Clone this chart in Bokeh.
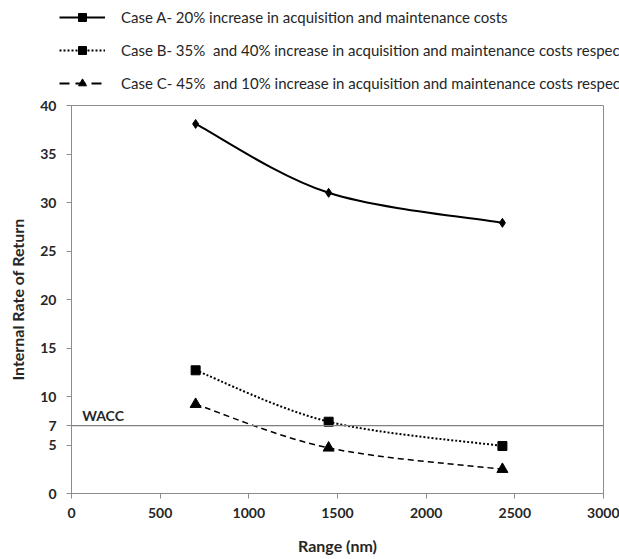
from bokeh.plotting import figure
from bokeh.layouts import column
from bokeh.models import (Legend, LegendItem, Span, Label, FixedTicker,
                          ColumnDataSource, Range1d)
from bokeh.embed import file_html
from bokeh.resources import INLINE

# ---- data ----
range_nm = [700, 1450, 2430]
case_a = [38.1, 31.0, 27.9]
case_b = [12.7, 7.4, 4.9]
case_c = [9.2, 4.7, 2.5]
wacc = 7
y_ticks = [0, 5, 7, 10, 15, 20, 25, 30, 35, 40]
x_ticks = [0, 500, 1000, 1500, 2000, 2500, 3000]
series_labels = [
    "Case A- 20% increase in acquisition and maintenance costs",
    "Case B- 35%  and 40% increase in acquisition and maintenance costs respectively",
    "Case C- 45%  and 10% increase in acquisition and maintenance costs respectively",
]
x_title = "Range (nm)"
y_title = "Internal Rate of Return"
wacc_label = "WACC"

FONT = "Lato"
TXT = "#262626"
AX = "#8c8c8c"


def smooth_segments(xs, ys):
    """Catmull-Rom style cubic Bezier segments through the data points."""
    n = len(xs)
    seg = dict(x0=[], y0=[], x1=[], y1=[], cx0=[], cy0=[], cx1=[], cy1=[])
    for i in range(n - 1):
        xp, yp = (xs[i - 1], ys[i - 1]) if i > 0 else (xs[i], ys[i])
        xn, yn = (xs[i + 2], ys[i + 2]) if i + 2 < n else (xs[i + 1], ys[i + 1])
        seg["x0"].append(xs[i]); seg["y0"].append(ys[i])
        seg["x1"].append(xs[i + 1]); seg["y1"].append(ys[i + 1])
        seg["cx0"].append(xs[i] + (xs[i + 1] - xp) / 6.0)
        seg["cy0"].append(ys[i] + (ys[i + 1] - yp) / 6.0)
        seg["cx1"].append(xs[i + 1] - (xn - xs[i]) / 6.0)
        seg["cy1"].append(ys[i + 1] - (yn - ys[i]) / 6.0)
    return ColumnDataSource(seg)


# ---------------- legend strip ----------------
lg = figure(width=619, height=95, x_range=Range1d(0, 3000), y_range=Range1d(0, 40),
            output_backend="svg", toolbar_location=None,
            x_axis_location=None, y_axis_location=None,
            min_border_left=0, min_border_right=0, min_border_top=0, min_border_bottom=0)
lg.frame_align = False
lg.outline_line_color = None
lg.xgrid.visible = False
lg.ygrid.visible = False

la = lg.line(range_nm, case_a, line_color="black", line_width=2, visible=False)
ma = lg.scatter(range_nm, case_a, marker="square", size=8, color="black", visible=False)
lb = lg.line(range_nm, case_b, line_color="black", line_width=2, line_dash="2 2", visible=False)
mb = lg.scatter(range_nm, case_b, marker="square", size=8, color="black", visible=False)
lc = lg.line(range_nm, case_c, line_color="black", line_width=2, line_dash="10 6", visible=False)
mc = lg.scatter(range_nm, case_c, marker="triangle", size=11, color="black", visible=False)

legend = Legend(items=[LegendItem(label=series_labels[0], renderers=[la, ma]),
                       LegendItem(label=series_labels[1], renderers=[lb, mb]),
                       LegendItem(label=series_labels[2], renderers=[lc, mc])],
                location=(59, 2), orientation="vertical", click_policy="none",
                padding=0, margin=0, spacing=13, label_height=20, glyph_height=20,
                glyph_width=46, label_standoff=16,
                label_text_font=FONT, label_text_font_size="15px", label_text_color=TXT,
                background_fill_alpha=0, border_line_alpha=0)
lg.add_layout(legend, "center")

# ---------------- main chart ----------------
p = figure(width=619, height=464, x_range=Range1d(0, 3000), y_range=Range1d(0, 40),
           output_backend="svg", toolbar_location=None,
           min_border_left=71, min_border_right=16, min_border_top=10, min_border_bottom=66)
p.frame_align = False

p.background_fill_color = "white"
p.border_fill_color = "white"
p.outline_line_color = AX
p.outline_line_width = 1
p.xgrid.visible = False
p.ygrid.visible = False

for ax in (p.xaxis[0], p.yaxis[0]):
    ax.axis_line_color = AX
    ax.major_tick_line_color = AX
    ax.minor_tick_line_color = None
    ax.major_tick_in = 0
    ax.major_tick_out = 5
    ax.major_label_text_font = FONT
    ax.major_label_text_font_style = "bold"
    ax.major_label_text_font_size = "14px"
    ax.major_label_text_color = TXT
    ax.axis_label_text_font = FONT
    ax.axis_label_text_font_style = "bold"
    ax.axis_label_text_font_size = "16px"
    ax.axis_label_text_color = TXT

p.xaxis[0].ticker = FixedTicker(ticks=x_ticks)
p.yaxis[0].ticker = FixedTicker(ticks=y_ticks)
p.xaxis[0].axis_label = x_title
p.yaxis[0].axis_label = y_title
p.xaxis[0].major_label_standoff = 9
p.xaxis[0].axis_label_standoff = 15
p.yaxis[0].major_label_standoff = 10
p.yaxis[0].axis_label_standoff = 10

# WACC line
p.add_layout(Span(location=wacc, dimension="width", line_color="#7f7f7f", line_width=1.2))
p.add_layout(Label(x=60, y=wacc, y_offset=2, text=wacc_label, text_font=FONT,
                   text_font_style="bold", text_font_size="14px", text_color=TXT))

# curves
src_a = smooth_segments(range_nm, case_a)
src_b = smooth_segments(range_nm, case_b)
src_c = smooth_segments(range_nm, case_c)
p.bezier("x0", "y0", "x1", "y1", "cx0", "cy0", "cx1", "cy1", source=src_a,
         line_color="black", line_width=2)
p.bezier("x0", "y0", "x1", "y1", "cx0", "cy0", "cx1", "cy1", source=src_b,
         line_color="black", line_width=2, line_dash="2 2")
p.bezier("x0", "y0", "x1", "y1", "cx0", "cy0", "cx1", "cy1", source=src_c,
         line_color="black", line_width=1.5, line_dash="6 4")

p.scatter(range_nm, case_a, marker="diamond", size=9, color="black")
p.scatter(range_nm, case_b, marker="square", size=9, color="black")
p.scatter(range_nm, case_c, marker="triangle", size=11, color="black")

layout = column(lg, p, spacing=0)
open("out.html", "w").write(file_html(layout, INLINE))
